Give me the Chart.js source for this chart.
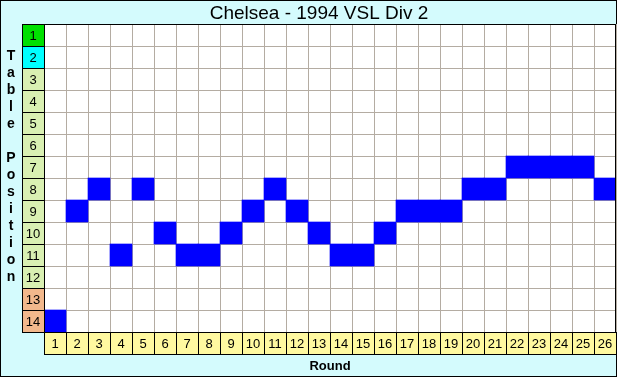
<!DOCTYPE html>
<html>
<head>
<meta charset="utf-8">
<script src="https://cdn.jsdelivr.net/npm/chart.js@4"></script>
<style>
  body { margin: 0; background: #d4fbfd; }
  canvas { display: block; }
</style>
</head>
<body>
<canvas id="chart" width="617" height="377"></canvas>
<script>
// ===== Data =====
const chartTitle = "Chelsea - 1994 VSL Div 2";
const rounds = ["1","2","3","4","5","6","7","8","9","10","11","12","13","14","15","16","17","18","19","20","21","22","23","24","25","26"];
const positions = [14, 9, 8, 11, 8, 10, 11, 11, 10, 9, 8, 9, 10, 11, 11, 10, 9, 9, 9, 8, 8, 7, 7, 7, 7, 8];
const tableRows = ["1","2","3","4","5","6","7","8","9","10","11","12","13","14"];
const yTitle = "Table Position";
const xTitle = "Round";

// colour of a position label cell
function zoneColor(p) {
  if (p === 1) return "#00e000";
  if (p === 2) return "#00ffff";
  if (p >= 13) return "#f2b88c";
  return "#d9f0b2";
}

const FONT = "'Liberation Sans', Arial, sans-serif";

const decor = {
  id: "decor",
  beforeDraw(chart) {
    const c = chart.ctx;
    const w = chart.width, h = chart.height;
    c.save();
    c.fillStyle = "#d4fbfd";
    c.fillRect(0, 0, w, h);
    c.strokeStyle = "#000";
    c.lineWidth = 1;
    c.strokeRect(0.5, 0.5, w - 1, h - 1);
    const a = chart.chartArea;
    c.fillStyle = "#fff";
    c.fillRect(a.left, a.top, a.right - a.left, a.bottom - a.top);
    c.restore();
  },
  afterDatasetsDraw(chart) {
    const c = chart.ctx;
    const a = chart.chartArea;
    const x = chart.scales.x, y = chart.scales.y;
    const colW = (a.right - a.left) / rounds.length;
    c.save();
    c.lineWidth = 1;
    c.strokeStyle = "#000";

    // position label column
    const lw = 22;
    tableRows.forEach((t, i) => {
      const y0 = Math.round(y.getPixelForValue(i));
      const y1 = Math.round(y.getPixelForValue(i + 1));
      c.fillStyle = zoneColor(i + 1);
      c.fillRect(a.left - lw, y0, lw, y1 - y0);
      c.strokeRect(a.left - lw + 0.5, y0 + 0.5, lw, y1 - y0);
      c.fillStyle = "#000";
      c.font = "13px " + FONT;
      c.textAlign = "center";
      c.textBaseline = "middle";
      c.fillText(t, a.left - lw / 2, (y0 + y1) / 2 + 1);
    });

    // round label row
    const rh = 22;
    rounds.forEach((r, i) => {
      const xc = x.getPixelForValue(i);
      const x0 = Math.round(xc - colW / 2);
      const x1 = Math.round(xc + colW / 2);
      c.fillStyle = "#fff9a0";
      c.fillRect(x0, a.bottom, x1 - x0, rh);
      c.strokeRect(x0 + 0.5, a.bottom + 0.5, x1 - x0, rh);
      c.fillStyle = "#000";
      c.font = "13px " + FONT;
      c.textAlign = "center";
      c.textBaseline = "middle";
      c.fillText(r, xc, a.bottom + rh / 2 + 1);
    });

    // frame round the grid
    c.beginPath();
    c.moveTo(a.left - lw, a.top + 0.5);
    c.lineTo(a.right, a.top + 0.5);
    c.moveTo(a.right - 0.5, a.top);
    c.lineTo(a.right - 0.5, a.bottom);
    c.stroke();

    // title
    c.fillStyle = "#000";
    c.font = "19px " + FONT;
    c.textAlign = "center";
    c.textBaseline = "alphabetic";
    c.fillText(chartTitle, (a.left - lw + a.right) / 2, 19);

    // x title
    c.font = "bold 13px " + FONT;
    c.fillText(xTitle, (a.left + a.right) / 2, 370);

    // y title, stacked letters
    c.font = "bold 14px " + FONT;
    c.textBaseline = "middle";
    yTitle.split("").forEach((ch, i) => {
      c.fillText(ch, 11, 56 + i * 17);
    });
    c.restore();
  }
};

new Chart(document.getElementById("chart"), {
  type: "bar",
  data: {
    labels: rounds,
    datasets: [{
      data: positions.map(p => [p - 1, p]),
      backgroundColor: "#0000ff",
      borderWidth: 0,
      borderSkipped: false,
      barPercentage: 1,
      categoryPercentage: 1
    }]
  },
  options: {
    responsive: false,
    animation: false,
    devicePixelRatio: 1,
    layout: { padding: { left: 44, top: 24, right: 1, bottom: 45 } },
    plugins: {
      legend: { display: false },
      title: { display: false },
      tooltip: { enabled: false }
    },
    scales: {
      x: {
        offset: true,
        grid: { color: "#b4aca2", drawTicks: false, offset: true },
        border: { color: "#000" },
        ticks: { display: false }
      },
      y: {
        min: 0,
        max: 14,
        reverse: true,
        grid: { color: "#b4aca2", drawTicks: false },
        border: { color: "#000" },
        ticks: { display: false, stepSize: 1 }
      }
    }
  },
  plugins: [decor]
});
</script>
</body>
</html>
